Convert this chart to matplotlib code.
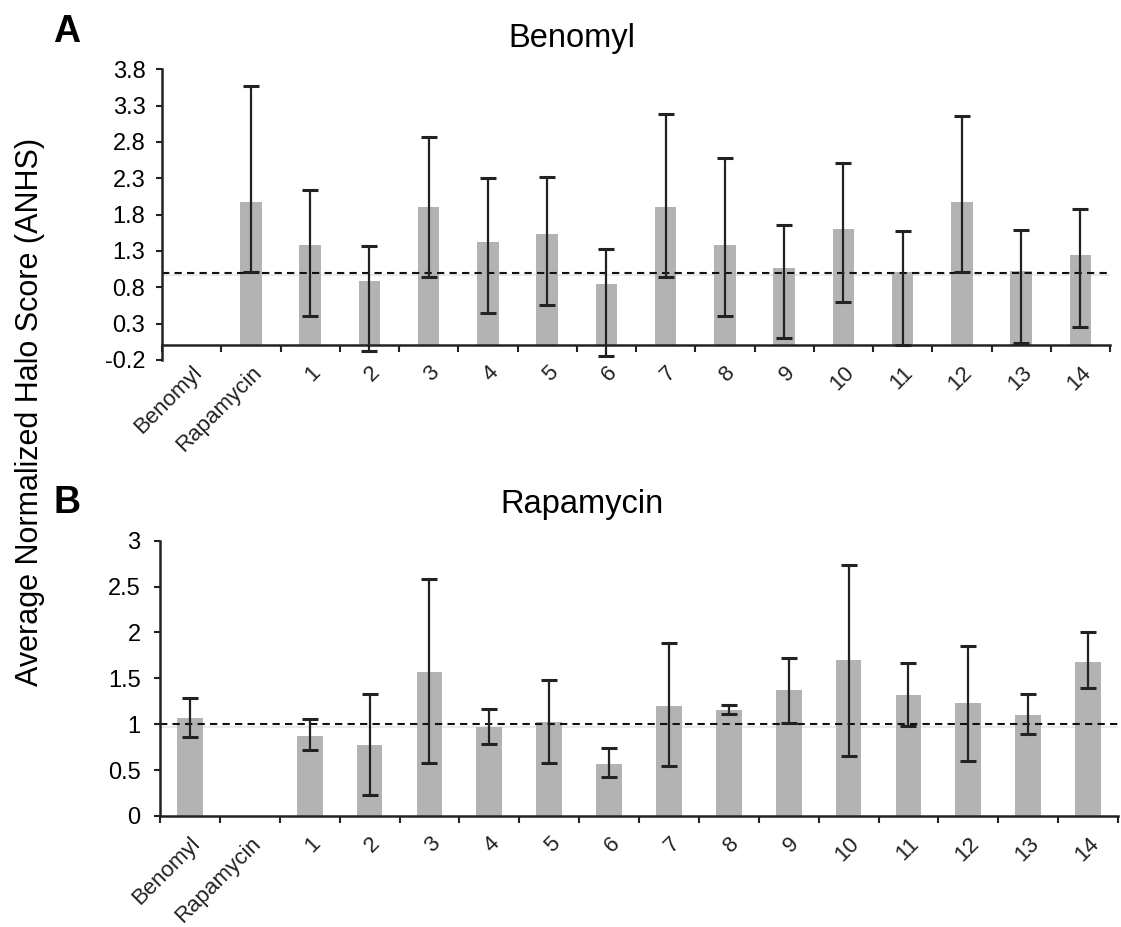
import numpy as np
import matplotlib
matplotlib.use("Agg")
import matplotlib.pyplot as plt
from matplotlib.ticker import FixedLocator

plt.rcParams['font.family'] = ['Liberation Sans', 'DejaVu Sans']

categories = ['Benomyl', 'Rapamycin', '1', '2', '3', '4', '5', '6', '7',
              '8', '9', '10', '11', '12', '13', '14']

# Panel A: Benomyl
ben_mean = [np.nan, 1.97, 1.38, 0.89, 1.91, 1.42, 1.53, 0.84, 1.91, 1.38, 1.07, 1.60, 1.01, 1.98, 1.02, 1.24]
ben_hi   = [np.nan, 3.57, 2.14, 1.37, 2.87, 2.30, 2.32, 1.33, 3.19, 2.58, 1.66, 2.51, 1.57, 3.16, 1.59, 1.88]
ben_lo   = [np.nan, 1.01, 0.40, -0.08, 0.94, 0.45, 0.56, -0.15, 0.94, 0.41, 0.10, 0.60, 0.01, 1.01, 0.03, 0.25]

# Panel B: Rapamycin
rap_mean = [1.07, np.nan, 0.87, 0.77, 1.57, 0.97, 1.02, 0.57, 1.20, 1.15, 1.37, 1.70, 1.32, 1.23, 1.10, 1.68]
rap_hi   = [1.29, np.nan, 1.06, 1.33, 2.58, 1.17, 1.48, 0.74, 1.89, 1.21, 1.72, 2.74, 1.67, 1.85, 1.33, 2.00]
rap_lo   = [0.86, np.nan, 0.72, 0.23, 0.58, 0.78, 0.58, 0.42, 0.54, 1.11, 1.01, 0.65, 0.98, 0.60, 0.89, 1.40]

ben_yticks = [-0.2, 0.3, 0.8, 1.3, 1.8, 2.3, 2.8, 3.3, 3.8]
ben_ylabels = ['-0.2', '0.3', '0.8', '1.3', '1.8', '2.3', '2.8', '3.3', '3.8']
rap_yticks = [0, 0.5, 1, 1.5, 2, 2.5, 3]
rap_ylabels = ['0', '0.5', '1', '1.5', '2', '2.5', '3']

W, H = 1121, 927
fig = plt.figure(figsize=(W / 100, H / 100), dpi=100)

def px_axes(left, right, top, bottom):
    return fig.add_axes([left / W, 1 - bottom / H, (right - left) / W, (bottom - top) / H])

axA = px_axes(162, 1110, 69.3, 360)
axB = px_axes(160, 1118, 540.7, 816)

bar_color = '#b3b3b3'
err_color = '#222222'

def draw(ax, mean, lo, hi, yticks, ylabels, ylim, width, ypad):
    for s in ['top', 'right']:
        ax.spines[s].set_visible(False)
    for s in ['left', 'bottom']:
        ax.spines[s].set_linewidth(1.8)
        ax.spines[s].set_color('#222222')
    ax.spines['bottom'].set_position(('data', 0))
    x = np.arange(len(categories))
    m = np.array(mean, dtype=float)
    l = np.array(lo, dtype=float)
    h = np.array(hi, dtype=float)
    ok = ~np.isnan(m)
    ax.axhline(0.965, color='#e6e6e6', lw=1.2, zorder=0.5)
    ax.bar(x[ok], m[ok], width=width, color=bar_color, zorder=1)
    ax.axhline(1.0, color='#111111', lw=1.5, ls=(0, (3.5, 2.5)), zorder=2)
    ax.errorbar(x[ok], m[ok], yerr=[m[ok] - l[ok], h[ok] - m[ok]], fmt='none',
                ecolor=err_color, elinewidth=1.6, capsize=5.5, capthick=2.2, zorder=3)
    ax.set_xlim(-0.5, len(categories) - 0.5)
    ax.set_ylim(*ylim)
    ax.set_yticks(yticks)
    ax.set_yticklabels(ylabels, fontsize=17)
    ax.tick_params(axis='y', direction='out', length=4, width=1.5, pad=ypad, color='#222222')
    ax.set_xticks(x)
    ax.set_xticklabels(categories, fontsize=16, rotation=45, ha='right',
                       rotation_mode='anchor', color='#222222')
    ax.xaxis.set_minor_locator(FixedLocator(np.arange(len(categories) + 1) - 0.5))
    ax.tick_params(axis='x', which='major', length=0, pad=12)
    ax.tick_params(axis='x', which='minor', direction='out', length=5, width=1.5, color='#222222')
    ax.set_facecolor('none')

draw(axA, ben_mean, ben_lo, ben_hi, ben_yticks, ben_ylabels, (-0.2, 3.8), 0.36, 8)
draw(axB, rap_mean, rap_lo, rap_hi, rap_yticks, rap_ylabels, (0, 3), 0.43, 10)

fig.text(572 / W, 1 - 47 / H, 'Benomyl', fontsize=23.5, ha='center', va='baseline')
fig.text(582 / W, 1 - 513 / H, 'Rapamycin', fontsize=23.5, ha='center', va='baseline')
fig.text(53 / W, 1 - 41.7 / H, 'A', fontsize=27, fontweight='bold', ha='left', va='baseline')
fig.text(53 / W, 1 - 513 / H, 'B', fontsize=27, fontweight='bold', ha='left', va='baseline')
fig.text(30 / W, 1 - 412 / H, 'Average Normalized Halo Score (ANHS)', fontsize=22,
         rotation=90, ha='center', va='center')

fig.savefig('out.png', dpi=100)
